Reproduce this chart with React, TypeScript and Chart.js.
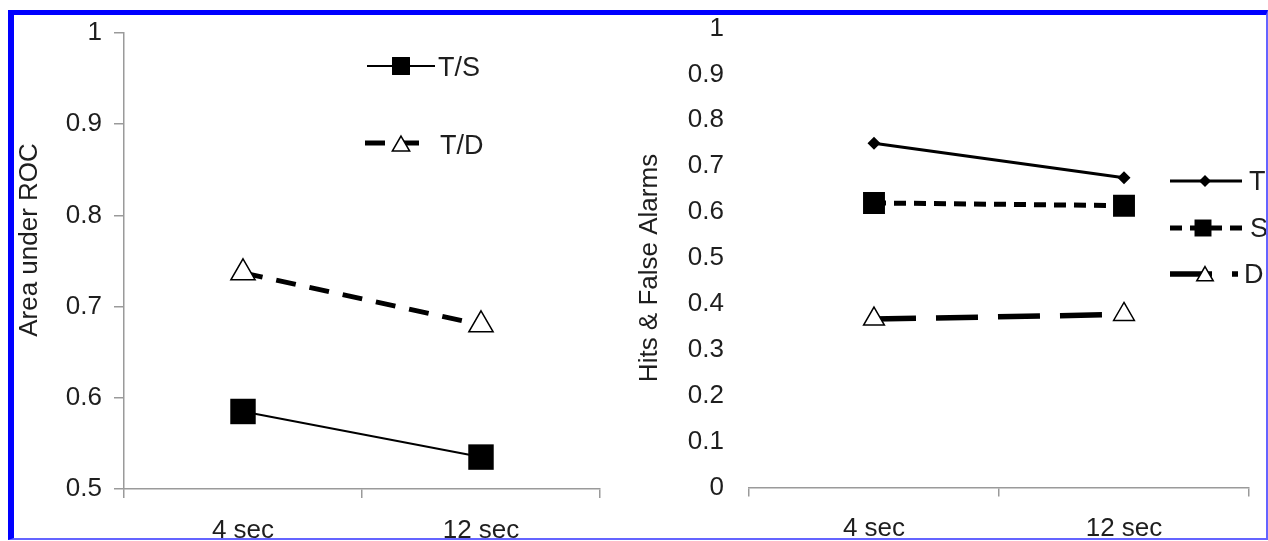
import React, { useEffect, useRef } from 'react';
import { Chart, registerables } from 'chart.js';

Chart.register(...registerables);

// ---------- data ----------
const categories = ['4 sec', '12 sec'];

const leftLabels = ['T/S', 'T/D'];
const leftTS = [0.585, 0.535];
const leftTD = [0.737, 0.68];
const leftYTicks = [0.5, 0.6, 0.7, 0.8, 0.9, 1];
const leftYTickLabels = ['0.5', '0.6', '0.7', '0.8', '0.9', '1'];
const leftTitle = 'Area under ROC';

const rightLabels = ['T', 'S', 'D'];
const rightT = [0.75, 0.675];
const rightS = [0.62, 0.614];
const rightD = [0.367, 0.377];
const rightYTicks = [0, 0.1, 0.2, 0.3, 0.4, 0.5, 0.6, 0.7, 0.8, 0.9, 1];
const rightYTickLabels = ['0', '0.1', '0.2', '0.3', '0.4', '0.5', '0.6', '0.7', '0.8', '0.9', '1'];
const rightTitle = 'Hits & False Alarms';

// ---------- styling ----------
const FONT = '"Liberation Sans", Arial, sans-serif';
const TEXT = '#1e1e1e';
const AXIS = '#9a9a9a';
const TICK_SIZE = 26;
const LEGEND_SIZE = 27;
const TITLE_SIZE = 26;

function drawMarker(ctx: CanvasRenderingContext2D, style: string, x: number, y: number, r: number, fill: string, stroke: string, lw: number) {
  ctx.save();
  ctx.setLineDash([]);
  ctx.beginPath();
  if (style === 'rect') {
    const s = r * Math.SQRT1_2;
    ctx.rect(x - s, y - s, 2 * s, 2 * s);
  } else if (style === 'triangle') {
    ctx.moveTo(x, y - r);
    ctx.lineTo(x + r * Math.sin((2 * Math.PI) / 3), y + r * 0.5);
    ctx.lineTo(x - r * Math.sin((2 * Math.PI) / 3), y + r * 0.5);
    ctx.closePath();
  } else {
    ctx.moveTo(x - r, y);
    ctx.lineTo(x, y - r);
    ctx.lineTo(x + r, y);
    ctx.lineTo(x, y + r);
    ctx.closePath();
  }
  ctx.fillStyle = fill;
  ctx.fill();
  if (lw > 0) {
    ctx.lineWidth = lw;
    ctx.strokeStyle = stroke;
    ctx.stroke();
  }
  ctx.restore();
}

type LegendItem = { x0: number; x1: number; y: number; mx: number; my: number; mr: number; tx: number; ty: number };
type Decor = { title: string; titleX: number; titleY: number; items: LegendItem[] };

function makeDecor(d: Decor) {
  return {
    id: 'decor',
    afterDraw(chart: any) {
      const ctx: CanvasRenderingContext2D = chart.ctx;
      ctx.save();
      ctx.translate(d.titleX, d.titleY);
      ctx.rotate(-Math.PI / 2);
      ctx.font = `${TITLE_SIZE}px ${FONT}`;
      ctx.fillStyle = TEXT;
      ctx.textAlign = 'center';
      ctx.textBaseline = 'middle';
      ctx.fillText(d.title, 0, 0);
      ctx.restore();

      d.items.forEach((it, i) => {
        const ds = chart.data.datasets[i];
        ctx.save();
        ctx.strokeStyle = ds.borderColor;
        ctx.lineWidth = ds.borderWidth;
        ctx.setLineDash(ds.borderDash || []);
        ctx.beginPath();
        ctx.moveTo(it.x0, it.y);
        ctx.lineTo(it.x1, it.y);
        ctx.stroke();
        ctx.restore();
        drawMarker(ctx, ds.pointStyle, it.mx, it.my, it.mr, ds.pointBackgroundColor, ds.pointBorderColor, ds.pointBorderWidth);
        ctx.save();
        ctx.font = `${LEGEND_SIZE}px ${FONT}`;
        ctx.fillStyle = TEXT;
        ctx.textAlign = 'left';
        ctx.textBaseline = 'middle';
        ctx.fillText(ds.label, it.tx, it.ty);
        ctx.restore();
      });
    },
  };
}

function tickFont(size: number) {
  return { family: FONT, size };
}

function fixY(width: number) {
  return (s: any) => {
    s.width = width;
    s.paddingTop = 0;
    s.paddingBottom = 0;
  };
}

function fixX(height: number) {
  return (s: any) => {
    s.height = height;
    s.paddingLeft = 0;
    s.paddingRight = 0;
  };
}

function leftConfig(): any {
  return {
    type: 'line',
    data: {
      labels: categories,
      datasets: [
        {
          label: leftLabels[0],
          data: leftTS,
          borderColor: '#000',
          borderWidth: 2,
          pointStyle: 'rect',
          pointRadius: 18,
          pointBackgroundColor: '#000',
          pointBorderColor: '#000',
          pointBorderWidth: 0,
        },
        {
          label: leftLabels[1],
          data: leftTD,
          borderColor: '#000',
          borderWidth: 5,
          borderDash: [20, 14],
          pointStyle: 'triangle',
          pointRadius: 14,
          pointBackgroundColor: '#fff',
          pointBorderColor: '#000',
          pointBorderWidth: 1.5,
        },
      ],
    },
    options: {
      animation: false,
      responsive: false,
      events: [],
      layout: { padding: { left: 0, right: 34, top: 15, bottom: 0 } },
      plugins: { legend: { display: false }, tooltip: { enabled: false } },
      scales: {
        x: {
          offset: true,
          afterFit: fixX(52),
          border: { display: true, color: AXIS, width: 1.5 },
          grid: { offset: true, drawOnChartArea: false, drawTicks: true, tickLength: 9, color: AXIS, lineWidth: 1.5 },
          ticks: { padding: 17, color: TEXT, font: tickFont(TICK_SIZE), maxRotation: 0 },
        },
        y: {
          min: 0.5,
          max: 1,
          afterBuildTicks: (s: any) => { s.ticks = leftYTicks.map((v) => ({ value: v })); },
          afterFit: fixY(110),
          border: { display: true, color: AXIS, width: 1.5 },
          grid: { drawOnChartArea: false, drawTicks: true, tickLength: 10, color: AXIS, lineWidth: 1.5 },
          ticks: { padding: 12, color: TEXT, font: tickFont(TICK_SIZE), callback: (_v: any, i: number) => leftYTickLabels[i] },
        },
      },
    },
    plugins: [
      makeDecor({
        title: leftTitle,
        titleX: 16,
        titleY: 225,
        items: [
          { x0: 353, x1: 421, y: 51, mx: 387, my: 51, mr: 12.7, tx: 424, ty: 54 },
          { x0: 351, x1: 409, y: 128, mx: 387, my: 131, mr: 10, tx: 426, ty: 132 },
        ],
      }),
    ],
  };
}

function rightConfig(): any {
  return {
    type: 'line',
    data: {
      labels: categories,
      datasets: [
        {
          label: rightLabels[0],
          data: rightT,
          borderColor: '#000',
          borderWidth: 3,
          pointStyle: 'rectRot',
          pointRadius: 6.5,
          pointBackgroundColor: '#000',
          pointBorderColor: '#000',
          pointBorderWidth: 0,
        },
        {
          label: rightLabels[1],
          data: rightS,
          borderColor: '#000',
          borderWidth: 5,
          borderDash: [12, 8],
          pointStyle: 'rect',
          pointRadius: 15.5,
          pointBackgroundColor: '#000',
          pointBorderColor: '#000',
          pointBorderWidth: 0,
        },
        {
          label: rightLabels[2],
          data: rightD,
          borderColor: '#000',
          borderWidth: 5.5,
          borderDash: [42, 20],
          pointStyle: 'triangle',
          pointRadius: 12,
          pointBackgroundColor: '#fff',
          pointBorderColor: '#000',
          pointBorderWidth: 1.5,
        },
      ],
    },
    options: {
      animation: false,
      responsive: false,
      events: [],
      layout: { padding: { left: 0, right: 17, top: 15, bottom: 0 } },
      plugins: { legend: { display: false }, tooltip: { enabled: false } },
      scales: {
        x: {
          offset: true,
          afterFit: fixX(53.5),
          border: { display: true, color: AXIS, width: 1.5 },
          grid: { offset: true, drawOnChartArea: false, drawTicks: true, tickLength: 9, color: AXIS, lineWidth: 1.5 },
          ticks: { padding: 17, color: TEXT, font: tickFont(TICK_SIZE), maxRotation: 0 },
        },
        y: {
          min: 0,
          max: 1,
          afterBuildTicks: (s: any) => { s.ticks = rightYTicks.map((v) => ({ value: v })); },
          afterFit: fixY(115),
          border: { display: false },
          grid: { display: false, drawOnChartArea: false, drawTicks: false, tickLength: 0 },
          ticks: { padding: 25, color: TEXT, font: tickFont(TICK_SIZE), callback: (_v: any, i: number) => rightYTickLabels[i] },
        },
      },
    },
    plugins: [
      makeDecor({
        title: rightTitle,
        titleX: 16,
        titleY: 255,
        items: [
          { x0: 536, x1: 608, y: 168, mx: 571, my: 168, mr: 6, tx: 615, ty: 170 },
          { x0: 536, x1: 608, y: 215, mx: 569, my: 215, mr: 12, tx: 616, ty: 217 },
          { x0: 536, x1: 604, y: 261, mx: 571, my: 263, mr: 9.5, tx: 610, ty: 263 },
        ],
      }),
    ],
  };
}

export default function App() {
  const leftRef = useRef<HTMLCanvasElement>(null);
  const rightRef = useRef<HTMLCanvasElement>(null);

  useEffect(() => {
    const c1 = new Chart(leftRef.current as HTMLCanvasElement, leftConfig());
    const c2 = new Chart(rightRef.current as HTMLCanvasElement, rightConfig());
    return () => {
      c1.destroy();
      c2.destroy();
    };
  }, []);

  return (
    <div style={{ position: 'fixed', left: 0, top: 0, width: 1268, height: 541, background: '#fff', overflow: 'hidden' }}>
      <canvas ref={leftRef} width={620} height={526} style={{ position: 'absolute', left: 14, top: 15 }} />
      <canvas ref={rightRef} width={632} height={528} style={{ position: 'absolute', left: 634, top: 13 }} />
      <div
        style={{
          position: 'absolute',
          left: 8,
          top: 10,
          width: 1260,
          height: 530,
          boxSizing: 'border-box',
          borderTop: '5px solid #0000ff',
          borderLeft: '6px solid #0000ff',
          borderRight: '2px solid #6464ff',
          borderBottom: '2px solid #6464ff',
          pointerEvents: 'none',
        }}
      />
    </div>
  );
}
